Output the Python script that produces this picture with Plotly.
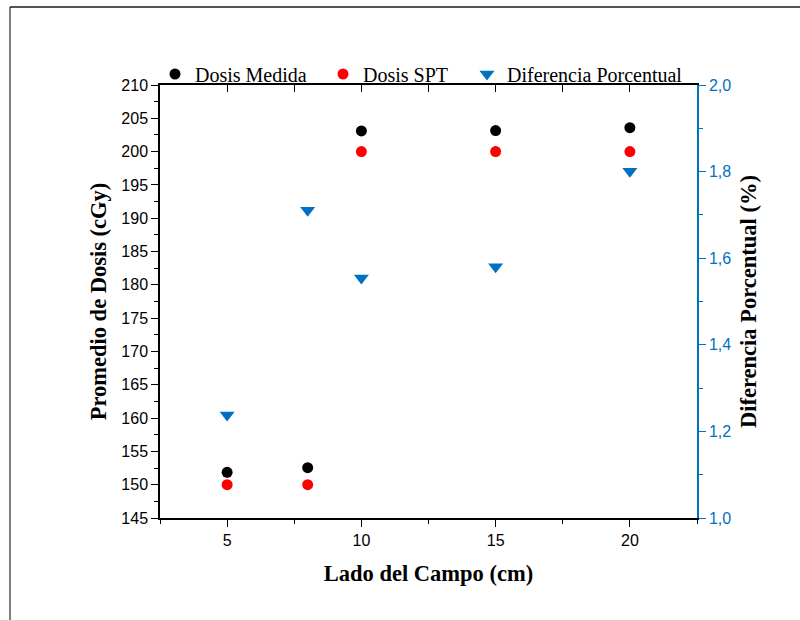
import plotly.graph_objects as go

# Field size (cm)
lado_campo = [5, 8, 10, 15, 20]
# Mean dose (cGy)
dosis_medida = [151.86, 152.56, 203.1, 203.16, 203.6]
dosis_spt = [150, 150, 200, 200, 200]
# Percent difference (%)
diferencia_pct = [1.238, 1.711, 1.554, 1.580, 1.801]

BLUE = "#0070C0"
SERIF = "Liberation Serif, Times New Roman, serif"
SANS = "Liberation Sans, Arial, sans-serif"

# plot-area box in pixels, used to place the legends and the outer frame
px_l, px_r, px_t, px_b = 160, 697, 85, 518
W, H = px_r - px_l, px_b - px_t


def fx(p):
    return (p - px_l) / W


def fy(p):
    return (px_b - p) / H


fig = go.Figure()

fig.add_trace(go.Scatter(
    x=lado_campo, y=dosis_medida, mode="markers", name="Dosis Medida",
    marker=dict(symbol="circle", size=11, color="black"),
    xaxis="x", yaxis="y", legend="legend",
))
fig.add_trace(go.Scatter(
    x=lado_campo, y=dosis_spt, mode="markers", name="Dosis SPT",
    marker=dict(symbol="circle", size=11, color="#FF0000"),
    xaxis="x", yaxis="y", legend="legend2",
))
fig.add_trace(go.Scatter(
    x=lado_campo, y=diferencia_pct, mode="markers", name="Diferencia Porcentual",
    marker=dict(symbol="triangle-down", size=13, color=BLUE),
    xaxis="x", yaxis="y2", legend="legend3",
))
# invisible trace so the top frame axis is drawn
fig.add_trace(go.Scatter(
    x=[lado_campo[0]], y=[dosis_spt[0]], mode="markers", showlegend=False,
    marker=dict(opacity=0), hoverinfo="skip", xaxis="x2", yaxis="y",
))


def legend_at(text_left):
    return dict(
        x=fx(text_left - 44), y=fy(74), xanchor="left", yanchor="middle",
        orientation="h", font=dict(family=SERIF, size=20, color="black"),
        itemsizing="trace", bgcolor="rgba(0,0,0,0)", itemwidth=30,
    )


title_font = dict(family=SERIF, size=22.5, color="black")

fig.update_layout(
    width=800, height=620,
    margin=dict(l=px_l, r=800 - px_r, t=px_t, b=620 - px_b),
    paper_bgcolor="white", plot_bgcolor="white",
    showlegend=True,
    legend=legend_at(199),
    legend2=legend_at(367),
    legend3=legend_at(511),
    xaxis=dict(
        range=[2.5, 22.5], tick0=0, dtick=5,
        ticks="outside", ticklen=7, tickwidth=1.3, tickcolor="black",
        minor=dict(ticks="outside", ticklen=4, dtick=2.5, tick0=0, tickcolor="black"),
        showline=True, linecolor="black", linewidth=1.5,
        showgrid=False, zeroline=False,
        tickfont=dict(family=SANS, size=16, color="black"),
        title=dict(text="<b>Lado del Campo (cm)</b>", font=title_font, standoff=17),
    ),
    xaxis2=dict(
        range=[2.5, 22.5], overlaying="x", side="top", anchor="y",
        tick0=0, dtick=2.5, ticks="inside", ticklen=7, tickcolor="black",
        showticklabels=False, showline=True, linecolor="black", linewidth=1.5,
        showgrid=False, zeroline=False,
    ),
    yaxis=dict(
        range=[145, 210], tick0=0, dtick=5,
        ticks="outside", ticklen=7, tickwidth=1.3, tickcolor="black",
        minor=dict(ticks="outside", ticklen=4, dtick=2.5, tick0=0, tickcolor="black"),
        showline=True, linecolor="black", linewidth=1.5,
        showgrid=False, zeroline=False,
        tickfont=dict(family=SANS, size=16, color="black"),
        title=dict(text="<b>Promedio de Dosis (cGy)</b>", font=title_font, standoff=8),
    ),
    yaxis2=dict(
        range=[1.0, 2.0], overlaying="y", side="right", anchor="x",
        tick0=0, dtick=0.2, tickformat=".1f",
        ticks="outside", ticklen=7, tickwidth=1.3, tickcolor=BLUE,
        minor=dict(ticks="outside", ticklen=4, dtick=0.1, tick0=0, tickcolor=BLUE),
        showline=True, linecolor=BLUE, linewidth=1.5,
        showgrid=False, zeroline=False,
        tickfont=dict(family=SANS, size=16, color=BLUE),
        title=dict(text="<b>Diferencia Porcentual (%)</b>", font=title_font, standoff=10),
    ),
    separators=", ",
    shapes=[
        dict(type="line", xref="paper", yref="paper",
             x0=fx(10), x1=fx(800), y0=fy(7), y1=fy(7),
             line=dict(color="#555555", width=2)),
        dict(type="line", xref="paper", yref="paper",
             x0=fx(10), x1=fx(10), y0=fy(7), y1=fy(620),
             line=dict(color="black", width=1)),
    ],
)

fig.write_html("out.html")
